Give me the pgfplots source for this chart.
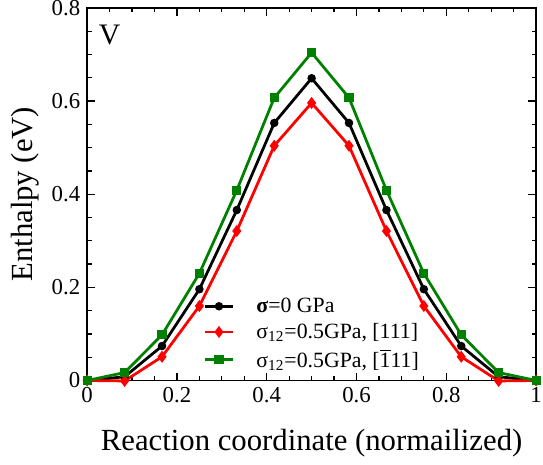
\documentclass[border=0pt]{standalone}
\usepackage{pgfplots}
\pgfplotsset{compat=1.18}
\usepackage{fontspec}
\setmainfont{Liberation Serif}
\definecolor{cRed}{HTML}{FF0000}
\definecolor{cGreen}{HTML}{008000}
\begin{document}
\begin{tikzpicture}
\begin{axis}[
  scale only axis, width=226.5pt, height=188pt,
  xmin=0, xmax=1, ymin=0, ymax=0.8,
  xtick={0,0.2,...,1}, ytick={0,0.2,...,0.8},
  minor tick num=3,
  tick align=inside, axis line style={line width=0.8pt},
  major tick length=4pt, minor tick length=2.2pt,
  every tick/.style={line width=0.6pt, black},
  xticklabels={0,0.2,0.4,0.6,0.8,1},
  yticklabels={0,0.2,0.4,0.6,0.8},
  tick label style={font=\fontsize{11.5}{12}\selectfont},
  /pgf/number format/assume math mode=true,
  xlabel={Reaction coordinate (normailized)},
  ylabel={Enthalpy (eV)},
  label style={font=\fontsize{15.5}{17}\selectfont},
  xlabel style={at={(axis description cs:0.5,-0.189)}, anchor=base},
  ylabel style={at={(axis description cs:-0.1214,0.5)}, anchor=base},
  legend style={draw=none, fill=none, at={(0.245,0.245)}, anchor=north west,
    font=\fontsize{11}{12}\selectfont, row sep=0pt},
  legend cell align=left,
  legend image code/.code={
    \draw[mark repeat=2, mark phase=2, #1] plot coordinates {(0cm,0cm) (0.25cm,0cm) (0.5cm,0cm)};
    \path (0.82cm,0cm);},
  clip=false,
]
\addplot[black, line width=1.4pt, mark=*, mark size=1.4pt] coordinates {
  (0,0) (0.0833,0.008) (0.1667,0.074) (0.25,0.196) (0.3333,0.366) (0.4167,0.553)
  (0.5,0.649) (0.5833,0.553) (0.6667,0.366) (0.75,0.196) (0.8333,0.074) (0.9167,0.008) (1,0)};
\addlegendentry{{\bfseries σ}=0 GPa}
\addplot[cRed, line width=1.4pt, mark=diamond*, mark size=1.9pt] coordinates {
  (0,0) (0.0833,-0.001) (0.1667,0.051) (0.25,0.16) (0.3333,0.321) (0.4167,0.504)
  (0.5,0.596) (0.5833,0.504) (0.6667,0.321) (0.75,0.16) (0.8333,0.051) (0.9167,-0.001) (1,0)};
\addlegendentry{σ\textsubscript{12}=0.5GPa, [111]}
\addplot[cGreen, line width=1.4pt, mark=square*, mark size=1.6pt] coordinates {
  (0,0) (0.0833,0.017) (0.1667,0.098) (0.25,0.23) (0.3333,0.4085) (0.4167,0.607)
  (0.5,0.704) (0.5833,0.607) (0.6667,0.4085) (0.75,0.23) (0.8333,0.098) (0.9167,0.017) (1,0)};
\addlegendentry{σ\textsubscript{12}=0.5GPa, [$\overline{\mbox{1}}$11]}
\node[anchor=north west, font=\fontsize{15}{16}\selectfont, inner sep=0pt] at (rel axis cs:0.025,0.955) {V};
\end{axis}
\pgfresetboundingbox
\path[use as bounding box] (-44pt,-42.6pt) rectangle (230pt,192pt);
\end{tikzpicture}
\end{document}
